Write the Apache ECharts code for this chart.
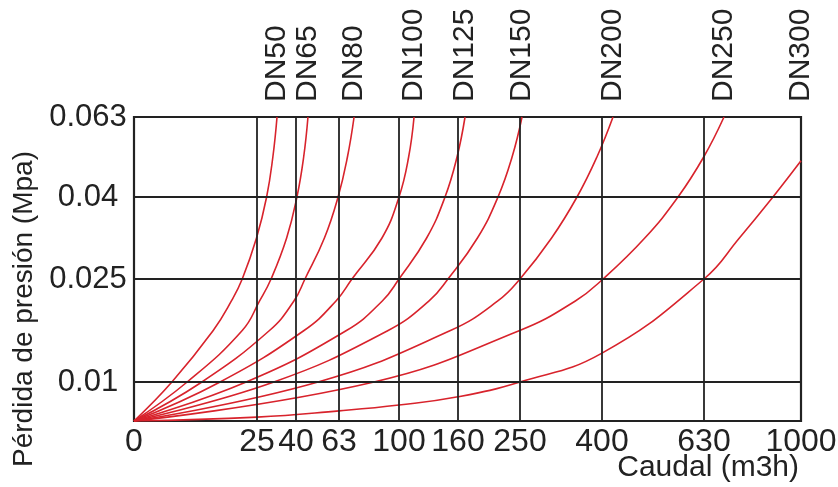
<!DOCTYPE html>
<html>
<head>
<meta charset="utf-8">
<script src="https://cdn.jsdelivr.net/npm/echarts@6/dist/echarts.min.js"></script>
<style>html,body{margin:0;padding:0;background:#fff}#c{width:838px;height:487px}</style>
</head>
<body>
<div id="c"></div>
<script>
// ---- data (flow m3/h, pressure loss MPa) ----
const flowTicks = [0, 25, 40, 63, 100, 160, 250, 400, 630, 1000];
const pressureTicks = [0, 0.01, 0.025, 0.04, 0.063];
const dnNames = ['DN50', 'DN65', 'DN80', 'DN100', 'DN125', 'DN150', 'DN200', 'DN250', 'DN300'];
const dn50  = [[0,0],[7.7,0.01],[16.1,0.0175],[19.8,0.0218],[22,0.025],[24.9,0.0325],[28.7,0.04],[31.1,0.0515],[32.7,0.063]];
const dn65  = [[0,0],[10.8,0.01],[22,0.0175],[26,0.0218],[30.4,0.025],[36.4,0.0325],[40.5,0.04],[44.1,0.0515],[46.4,0.063]];
const dn80  = [[0,0],[13.8,0.01],[29.8,0.0175],[39.2,0.0218],[44.8,0.025],[55.2,0.0325],[62.5,0.04],[68.2,0.0515],[72.3,0.063]];
const dn100 = [[0,0],[17.5,0.01],[44.3,0.0175],[61.4,0.0218],[71,0.025],[89.5,0.0325],[100,0.04],[109.8,0.0515],[115.3,0.063]];
const dn125 = [[0,0],[22.8,0.01],[67.6,0.0175],[89.7,0.0218],[100,0.025],[128.1,0.0325],[146.8,0.04],[159,0.0515],[170.2,0.063]];
const dn150 = [[0,0],[31.5,0.01],[93.3,0.0175],[130.6,0.0218],[149.8,0.025],[188.2,0.0325],[218.1,0.04],[238.5,0.0515],[253.7,0.063]];
const dn200 = [[0,0],[51.8,0.01],[152.3,0.0175],[217.8,0.0218],[250,0.025],[307.8,0.0325],[354.3,0.04],[390.7,0.0515],[424.8,0.063]];
const dn250 = [[0,0],[84.6,0.01],[249.6,0.0175],[351.3,0.0218],[402.3,0.025],[496.5,0.0325],[571.4,0.04],[629.3,0.0515],[706.3,0.063]];
const dn300 = [[0,0],[25,0.001],[63,0.0026],[100,0.0041],[160,0.0062],[250,0.01],[400,0.0142],[630,0.025],[765,0.0325],[893,0.04],[1000,0.0504]];
const curves = [dn50, dn65, dn80, dn100, dn125, dn150, dn200, dn250, dn300];

// ---- axis layout: the drawing uses a hand-spaced (non-uniform) scale ----
const xTickPos = [0, 123, 162, 205, 265, 324, 386, 468, 570, 667];
const yTickPos = [0, 39, 142, 224, 304];
function interp(v, from, to) {
  for (let i = 0; i < from.length - 1; i++) {
    if (v <= from[i + 1] || i === from.length - 2) {
      return to[i] + (v - from[i]) / (from[i + 1] - from[i]) * (to[i + 1] - to[i]);
    }
  }
}
const toX = f => interp(f, flowTicks, xTickPos);
const toY = p => interp(p, pressureTicks, yTickPos);
const near = (a, b) => Math.abs(a - b) < 0.01;

const FONT = 'Liberation Sans';
const INK = '#222';
const RED = '#d8232c';

const topPos = curves.map(c => toX(c[c.length - 1][0]));

const chart = echarts.init(document.getElementById('c'));
const series = [{
  type: 'line', data: [], z: 1, silent: true,
  markLine: {
    silent: true, symbol: ['none', 'none'], label: { show: false },
    lineStyle: { color: INK, width: 1.8, type: 'solid' },
    emphasis: { disabled: true },
    data: flowTicks.slice(1, -1).map(f => ({ xAxis: toX(f) }))
      .concat(pressureTicks.slice(1, -1).map(p => ({ yAxis: toY(p) })))
  }
}];
curves.forEach((c, i) => {
  series.push({
    name: dnNames[i], type: 'line', z: 3,
    data: c.map(([f, p]) => [toX(f), toY(p)]),
    smooth: 0.45, showSymbol: false, symbol: 'none',
    lineStyle: { color: RED, width: 1.6 }
  });
});

chart.setOption({
  animation: false,
  grid: { left: 134, right: 37, top: 117, bottom: 66, show: true, borderColor: INK, borderWidth: 2.2,
          containLabel: false, outerBoundsMode: 'none' },
  xAxis: [{
    type: 'value', min: 0, max: 667,
    axisLine: { show: false }, axisTick: { show: false }, splitLine: { show: false },
    axisLabel: {
      customValues: flowTicks.map(toX), margin: 5, hideOverlap: false, showMinLabel: true, showMaxLabel: true,
      formatter: v => { const i = flowTicks.findIndex(f => near(toX(f), v)); return i < 0 ? '' : String(flowTicks[i]); },
      fontFamily: FONT, fontSize: 32, color: INK
    },
    name: 'Caudal (m3h)', nameLocation: 'end', nameGap: -2, nameMoveOverlap: false,
    nameTextStyle: { fontFamily: FONT, fontSize: 30, color: INK, align: 'right', verticalAlign: 'top', padding: [32, 0, 0, 0] }
  }, {
    type: 'value', position: 'top', min: 0, max: 667,
    axisLine: { show: false }, axisTick: { show: false }, splitLine: { show: false },
    axisLabel: {
      customValues: topPos, rotate: -90, margin: 15, hideOverlap: false, showMinLabel: true, showMaxLabel: true,
      formatter: v => { const i = topPos.findIndex(p => near(p, v)); return i < 0 ? '' : dnNames[i]; },
      fontFamily: FONT, fontSize: 30, color: INK
    }
  }],
  yAxis: {
    type: 'value', min: 0, max: 304,
    axisLine: { show: false }, axisTick: { show: false }, splitLine: { show: false },
    axisLabel: {
      customValues: pressureTicks.slice(1).map(toY), margin: 46, align: 'center', hideOverlap: false,
      showMinLabel: true, showMaxLabel: true,
      formatter: v => { const i = pressureTicks.findIndex(p => near(toY(p), v)); return i < 0 ? '' : String(pressureTicks[i]); },
      fontFamily: FONT, fontSize: 31, color: INK
    },
    name: 'Pérdida de presión (Mpa)', nameLocation: 'middle', nameGap: 96,
    nameTextStyle: { fontFamily: FONT, fontSize: 28, color: INK, padding: [0, 80, 0, 0] }
  },
  series: series
});
</script>
</body>
</html>
